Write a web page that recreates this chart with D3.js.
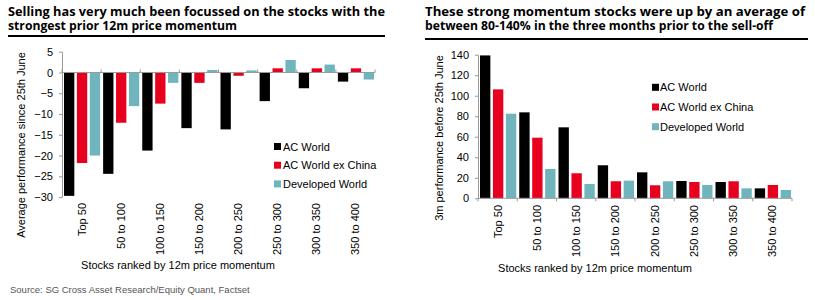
<!DOCTYPE html>
<html lang="en">
<head>
<meta charset="UTF-8">
<script src="https://cdn.jsdelivr.net/npm/d3@7"></script>
<title>Momentum charts</title>
<style>
  body { margin: 0; background: #fff; }
  text { font-family: "Liberation Sans", Arial, sans-serif; }
  .title { font-family: "Open Sans", "Noto Sans", sans-serif; font-weight: 700; font-size: 13px; fill: #000; }
  .tick text { font-size: 11px; fill: #000; }
  .axis path, .axis line { stroke: #999; }
</style>
</head>
<body>
<script>
// data
var categories = ["Top 50", "50 to 100", "100 to 150", "150 to 200", "200 to 250", "250 to 300", "300 to 350", "350 to 400"];
var seriesNames = ["AC World", "AC World ex China", "Developed World"];
var colors = ["#000000", "#e8001f", "#70b5be"];

// left: average performance since 25th June
var perfAcWorld   = [-29.7, -24.4, -18.8, -13.4, -13.7, -6.9, -3.8, -2.2];
var perfExChina   = [-21.8, -12.1, -7.5, -2.5, -0.8, 1.0, 1.0, 1.0];
var perfDeveloped = [-20.0, -8.1, -2.5, 0.6, 0.5, 3.0, 1.9, -1.7];
var leftTicks = [5, 0, -5, -10, -15, -20, -25, -30];

// right: 3m performance before 25th June
var preAcWorld   = [139.3, 83.8, 69.2, 32.2, 25.3, 16.9, 15.9, 9.7];
var preExChina   = [106.2, 59.1, 24.4, 16.6, 12.7, 15.9, 16.6, 13.0];
var preDeveloped = [82.5, 28.6, 14.0, 17.2, 16.6, 13.0, 9.7, 8.1];
var rightTicks = [0, 20, 40, 60, 80, 100, 120, 140];

var svg = d3.select("body").append("svg").attr("width", 815).attr("height", 300);

// title lines are squeezed to the widths
function drawTitle(x, w1, w2, ruleW, ruleY, line1, line2) {
  svg.append("text").attr("class", "title").attr("x", x).attr("y", 15.5)
    .attr("textLength", w1).attr("lengthAdjust", "spacingAndGlyphs").text(line1);
  svg.append("text").attr("class", "title").attr("x", x).attr("y", 29.5)
    .attr("textLength", w2).attr("lengthAdjust", "spacingAndGlyphs").text(line2);
  svg.append("line").attr("x1", x).attr("x2", x + ruleW).attr("y1", ruleY).attr("y2", ruleY)
    .attr("stroke", "#000").attr("stroke-width", 2);
}

function drawChart(opt) {
  var x0 = d3.scaleBand().domain(categories).range([opt.left, opt.right]);
  var x1 = d3.scaleBand().domain(seriesNames).range([2, x0.bandwidth() - 1]).paddingInner(0.2);
  var y = d3.scaleLinear().domain(opt.domain).range(opt.yrange);
  var series = opt.values;

  // bars
  var g = svg.append("g");
  categories.forEach(function(c, i) {
    g.selectAll(null).data(series).enter().append("rect")
      .attr("x", function(d, j) { return x0(c) + x1(seriesNames[j]); })
      .attr("width", x1.bandwidth())
      .attr("y", function(d) { return y(Math.max(0, d[i])); })
      .attr("height", function(d) { return Math.abs(y(d[i]) - y(0)); })
      .attr("fill", function(d, j) { return colors[j]; });
  });

  // y axis
  svg.append("g").attr("class", "axis")
    .attr("transform", "translate(" + opt.left + ",0)")
    .call(d3.axisLeft(y).tickValues(opt.ticks).tickSize(3).tickSizeOuter(0).tickPadding(6));

  // zero line with band ticks
  var z = svg.append("g").attr("class", "axis");
  z.append("line").attr("x1", opt.left).attr("x2", opt.right)
    .attr("y1", y(0)).attr("y2", y(0));
  var edges = categories.map(function(c) { return x0(c); }).concat([opt.right]);
  z.selectAll(null).data(edges).enter().append("line")
    .attr("x1", function(d) { return d; }).attr("x2", function(d) { return d; })
    .attr("y1", y(0) - opt.tickUp).attr("y2", y(0) + opt.tickDown);

  // category labels, rotated
  svg.selectAll(null).data(categories).enter().append("text")
    .attr("transform", function(d) {
      return "translate(" + (x0(d) + x0.bandwidth() / 2 + 4) + "," + opt.labelY + ") rotate(-90)";
    })
    .attr("text-anchor", "end").attr("font-size", 11).text(function(d) { return d; });

  // axis titles
  svg.append("text").attr("transform", "translate(" + opt.ylabX + "," + opt.ylabY + ") rotate(-90)")
    .attr("text-anchor", "middle").attr("font-size", 11).text(opt.ylabel);
  svg.append("text").attr("x", opt.xlabX).attr("y", opt.xlabY)
    .attr("text-anchor", "middle").attr("font-size", 11).text("Stocks ranked by 12m price momentum");

  // legend
  var lg = svg.append("g").attr("transform", "translate(" + opt.legX + "," + opt.legY + ")");
  var items = lg.selectAll(null).data(seriesNames).enter().append("g")
    .attr("transform", function(d, i) { return "translate(0," + i * opt.legStep + ")"; });
  items.append("rect").attr("x", 0).attr("y", -3.5).attr("width", 7).attr("height", 7)
    .attr("fill", function(d, i) { return colors[i]; });
  items.append("text").attr("x", opt.legText).attr("y", 4).attr("font-size", 11)
    .text(function(d) { return d; });
}

drawTitle(8, 377, 229, 377, 36,
  "Selling has very much been focussed on the stocks with the",
  "strongest prior 12m price momentum");
drawTitle(425, 380, 348, 383, 39,
  "These strong momentum stocks were up by an average of",
  "between 80-140% in the three months prior to the sell-off");

drawChart({
  left: 62, right: 375, domain: [5, -30], yrange: [51.7, 197.1], ticks: leftTicks,
  values: [perfAcWorld, perfExChina, perfDeveloped],
  tickUp: 3, tickDown: 0, labelY: 203,
  ylabel: "Average performance since 25th June", ylabX: 25, ylabY: 145,
  xlabX: 178, xlabY: 269,
  legX: 274, legY: 146.5, legStep: 18.7, legText: 9
});

drawChart({
  left: 478, right: 792, domain: [0, 140], yrange: [198.3, 54.7], ticks: rightTicks,
  values: [preAcWorld, preExChina, preDeveloped],
  tickUp: 0, tickDown: 3, labelY: 205,
  ylabel: "3m performance before 25th June", ylabX: 443, ylabY: 138,
  xlabX: 595, xlabY: 272,
  legX: 652, legY: 87.3, legStep: 19.7, legText: 8
});

svg.append("text").attr("x", 10).attr("y", 293)
  .attr("font-family", "Open Sans, sans-serif").attr("font-size", 9.5).attr("fill", "#555")
  .text("Source: SG Cross Asset Research/Equity Quant, Factset");
</script>
</body>
</html>
